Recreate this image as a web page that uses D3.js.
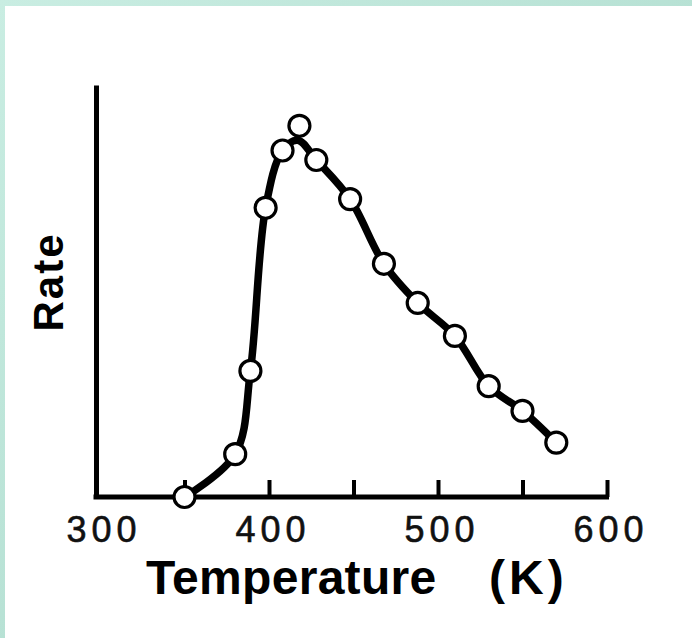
<!DOCTYPE html>
<html>
<head>
<meta charset="utf-8">
<script src="https://cdn.jsdelivr.net/npm/d3@7"></script>
<style>
  body { margin: 0; background: #fff; }
  svg { display: block; }
</style>
</head>
<body>
<div class="chart"></div>
<script>
// Temperature (K) and rate (arbitrary units, 0 = baseline)
var temps = [350, 380, 389, 398, 408, 418, 428, 448, 468, 488, 510, 530, 550, 570];
var rates = [0, 10.4, 30.6, 70.2, 84.1, 90.1, 81.8, 72.3, 56.6, 47.1, 39.1, 26.9, 20.9, 13.2];

// the hand-drawn guide line (passes under the top point)
var fitTemps = [350, 380, 389, 398, 408, 417, 428, 448, 468, 488, 510, 530, 550, 570];
var fitRates = [0, 10.4, 30.6, 70.2, 84.1, 86.6, 81.8, 72.3, 56.6, 47.1, 39.1, 26.9, 20.9, 13.2];

var tickTemps = [350, 400, 450, 500, 550, 600];
var labelTemps = [300, 400, 500, 600];

var width = 692;
var height = 638;

var x = d3.scaleLinear().domain([300, 600]).range([100, 607]);
var y = d3.scaleLinear().domain([0, 100]).range([497, 85]);

var svg = d3.select(".chart").append("svg")
    .attr("width", width)
    .attr("height", height);

// teal frame on top and left like the slide background
var defs = svg.append("defs");
var grad = defs.append("linearGradient")
    .attr("id", "frame")
    .attr("x1", "0%").attr("y1", "0%")
    .attr("x2", "100%").attr("y2", "100%");
grad.append("stop").attr("offset", "0%").attr("stop-color", "#c9ede2");
grad.append("stop").attr("offset", "100%").attr("stop-color", "#a6d6c7");

svg.append("rect").attr("width", width).attr("height", height).attr("fill", "url(#frame)");
svg.append("rect").attr("x", 5).attr("y", 6)
    .attr("width", width - 5).attr("height", height - 6)
    .attr("fill", "#fff");

// x axis with upward ticks
svg.append("g")
    .attr("transform", "translate(0," + y(0) + ")")
    .call(d3.axisBottom(x).tickValues(tickTemps).tickSizeInner(-17).tickSizeOuter(0).tickFormat(""))
    .call(function(g) {
        g.select(".domain")
            .attr("d", "M" + (x(300) - 6.5) + ",0H" + (x(600) + 2))
            .attr("stroke", "#000").attr("stroke-width", 5);
        g.selectAll(".tick line").attr("stroke", "#000").attr("stroke-width", 4);
    });

// y axis, plain line
svg.append("g")
    .attr("transform", "translate(" + (x(300) - 4) + ",0)")
    .call(d3.axisLeft(y).tickValues([]).tickSizeOuter(0))
    .call(function(g) {
        g.select(".domain").attr("stroke", "#000").attr("stroke-width", 5);
    });

// tick labels
svg.append("g").selectAll("text")
    .data(labelTemps)
    .enter().append("text")
        .attr("x", function(d) { return x(d) + 4; })
        .attr("y", 542)
        .attr("text-anchor", "middle")
        .attr("font-family", "Liberation Sans, Arial, sans-serif")
        .attr("font-size", 36)
        .attr("letter-spacing", "5px")
        .attr("stroke", "#111")
        .attr("stroke-width", 0.6)
        .attr("fill", "#111")
        .text(function(d) { return d; });

// axis titles
var titleFont = "Liberation Sans, Arial, sans-serif";
svg.append("text")
    .attr("x", 146)
    .attr("y", 594)
    .attr("font-family", titleFont)
    .attr("font-weight", "bold")
    .attr("font-size", 48)
    .attr("letter-spacing", "0.3px")
    .attr("fill", "#000")
    .text("Temperature");

svg.append("text")
    .attr("x", 489)
    .attr("y", 594)
    .attr("font-family", titleFont)
    .attr("font-weight", "bold")
    .attr("font-size", 48)
    .attr("letter-spacing", "4px")
    .attr("fill", "#000")
    .text("(K)");

svg.append("text")
    .attr("transform", "translate(63,282) rotate(-90)")
    .attr("text-anchor", "middle")
    .attr("font-family", titleFont)
    .attr("font-weight", "bold")
    .attr("font-size", 42)
    .attr("letter-spacing", "2px")
    .attr("fill", "#000")
    .text("Rate");

// guide curve
var fit = fitTemps.map(function(t, i) { return [t, fitRates[i]]; });
var line = d3.line()
    .x(function(d) { return x(d[0]); })
    .y(function(d) { return y(d[1]); })
    .curve(d3.curveCatmullRom.alpha(0.5));

svg.append("path")
    .datum(fit)
    .attr("d", line)
    .attr("fill", "none")
    .attr("stroke", "#000")
    .attr("stroke-width", 7.5)
    .attr("stroke-linejoin", "round");

// open circles
var points = temps.map(function(t, i) { return {t: t, r: rates[i]}; });
svg.append("g").selectAll("circle")
    .data(points)
    .enter().append("circle")
        .attr("cx", function(d) { return x(d.t); })
        .attr("cy", function(d) { return y(d.r); })
        .attr("r", 10.5)
        .attr("fill", "#fff")
        .attr("stroke", "#000")
        .attr("stroke-width", 3.2);
</script>
</body>
</html>
